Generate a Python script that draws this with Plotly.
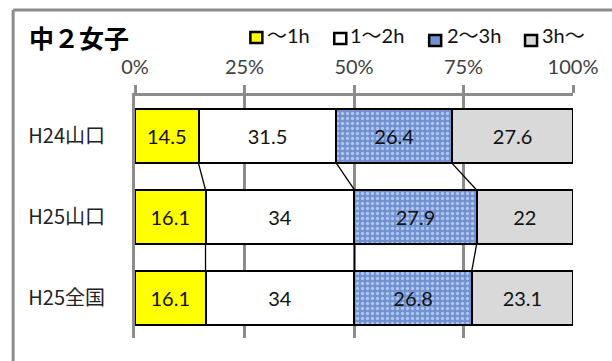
import plotly.graph_objects as go

# ---- data ----
categories = ["H24山口", "H25山口", "H25全国"]
series_names = ["～1h", "1～2h", "2～3h", "3h～"]
v_1h = [14.5, 16.1, 16.1]
v_1_2h = [31.5, 34, 34]
v_2_3h = [26.4, 27.9, 26.8]
v_3h = [27.6, 22, 23.1]
x_ticks = [0, 25, 50, 75, 100]
x_tick_labels = ["0%", "25%", "50%", "75%", "100%"]
title_text = "中２女子"

series_values = [v_1h, v_1_2h, v_2_3h, v_3h]
colors = ["#ffff00", "#ffffff", "#7393d0", "#d9d9d9"]

W_PX, H_PX = 612, 361
X0, X1 = 134.5, 573.0
Y0, Y1 = 96.0, 338.0
BAR_W = 0.67


def px(x):
    return (x - X0) / (X1 - X0)


def py(y):
    return (Y1 - y) / (Y1 - Y0)


LATIN = "Lato, 'Noto Sans CJK JP', sans-serif"
CJK = "'Noto Sans CJK JP', sans-serif"

fig = go.Figure()
ypos = list(range(len(categories)))
for i, (name, vals) in enumerate(zip(series_names, series_values)):
    marker = dict(color=colors[i], line=dict(color="#000000", width=2))
    if i == 2:
        marker["pattern"] = dict(shape=".", fillmode="replace", bgcolor="#7090cf",
                                 fgcolor="#aec6f0", size=5, solidity=0.35)
    fig.add_trace(go.Bar(
        x=vals, y=ypos, orientation="h", name=name, width=BAR_W,
        marker=marker, text=vals, texttemplate="%{x}",
        textposition="inside", insidetextanchor="middle", constraintext="none",
        textangle=0,
        textfont=dict(family=LATIN, size=20, color="#111111"),
        showlegend=False, hoverinfo="skip",
    ))

# series lines between bars
cums = []
for j in range(len(categories)):
    c, s = [], 0.0
    for vals in series_values:
        s += vals[j]
        c.append(s)
    cums.append(c)
for j in range(len(categories) - 1):
    for k in range(len(series_values) - 1):
        fig.add_trace(go.Scatter(
            x=[cums[j][k], cums[j + 1][k]],
            y=[j + BAR_W / 2, j + 1 - BAR_W / 2],
            mode="lines", line=dict(color="#000000", width=1.3),
            showlegend=False, hoverinfo="skip",
        ))

fig.update_layout(
    barmode="stack",
    width=W_PX, height=H_PX,
    margin=dict(l=X0, r=W_PX - X1, t=Y0, b=H_PX - Y1, pad=0),
    paper_bgcolor="#ffffff", plot_bgcolor="#ffffff",
    xaxis=dict(
        side="top", range=[0, 100], tickvals=x_ticks, ticktext=x_tick_labels,
        showgrid=True, gridcolor="#8c8c8c", gridwidth=3,
        showline=True, linecolor="#8c8c8c", linewidth=3,
        ticks="outside", ticklen=8, tickwidth=3, tickcolor="#8c8c8c",
        tickfont=dict(family=LATIN, size=20, color="#404040"),
        ticklabelstandoff=3, zeroline=False, fixedrange=True,
    ),
    yaxis=dict(
        range=[len(categories) - 0.5, -0.5], tickvals=ypos, ticktext=categories,
        showgrid=False, zeroline=False,
        showline=True, linecolor="#8c8c8c", linewidth=3,
        ticks="", tickfont=dict(family=CJK, size=20, color="#222222"),
        ticklabelstandoff=23, fixedrange=True,
    ),
)

shapes = []
# outer frame (top and left edges)
shapes.append(dict(type="line", xref="paper", yref="paper",
                   x0=px(12.5), y0=py(10), x1=px(700), y1=py(10),
                   line=dict(color="#8c8c8c", width=3)))
shapes.append(dict(type="line", xref="paper", yref="paper",
                   x0=px(12.5), y0=py(10), x1=px(12.5), y1=py(400),
                   line=dict(color="#8c8c8c", width=3)))

legend_items = [
    (250, 32, 266),
    (334, 33, 349),
    (429, 35, 446),
    (525, 35, 541),
]
annotations = [dict(text="<b>" + title_text + "</b>", xref="paper", yref="paper",
                    x=px(27), y=py(37), xanchor="left", yanchor="middle",
                    showarrow=False, borderpad=0,
                    font=dict(family=CJK, size=25, color="#000000"))]
for (sx, sy, tx), name, col in zip(legend_items, series_names, colors):
    shapes.append(dict(type="rect", xref="paper", yref="paper",
                       x0=px(sx), x1=px(sx + 12), y0=py(sy), y1=py(sy + 11),
                       fillcolor=col, line=dict(color="#000000", width=2.5)))
    annotations.append(dict(text=name, xref="paper", yref="paper",
                            x=px(tx), y=py(35), xanchor="left", yanchor="middle",
                            showarrow=False, borderpad=0,
                            font=dict(family=LATIN, size=20, color="#111111")))

fig.update_layout(shapes=shapes, annotations=annotations)
fig.write_html("out.html")
